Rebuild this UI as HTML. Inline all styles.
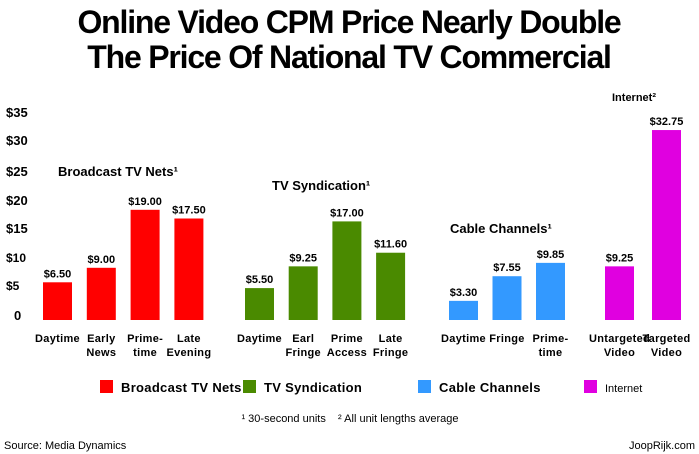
<!DOCTYPE html>
<html><head><meta charset="utf-8"><style>
body{margin:0;background:#fff;}
svg{display:block;font-family:"Liberation Sans",Arial,sans-serif;}
</style></head><body>
<svg id="c" width="699" height="454" viewBox="0 0 699 454">
<text x="349" y="33" text-anchor="middle" font-size="32" font-weight="bold" letter-spacing="-1.2">Online Video CPM Price Nearly Double</text>
<text x="349" y="68" text-anchor="middle" font-size="32" font-weight="bold" letter-spacing="-1.2">The Price Of National TV Commercial</text>
<g id="yaxis"></g>
<g id="bars"></g>
<g id="legend"></g>
<text x="350" y="422" text-anchor="middle" font-size="11" xml:space="preserve" style="white-space:pre">¹ 30-second units    ² All unit lengths average</text>
<text x="4" y="449" font-size="11">Source: Media Dynamics</text>
<text x="695" y="449" text-anchor="end" font-size="11">JoopRijk.com</text>
</svg>
<script>
const yTicks=["$35","$30","$25","$20","$15","$10","$5","0"];
const groups=["Broadcast TV Nets¹","TV Syndication¹","Cable Channels¹","Internet²"];
const colors=["#ff0000","#4a8a00","#3399ff","#e000e0"];
const broadcastCats=[["Daytime"],["Early","News"],["Prime-","time"],["Late","Evening"]];
const broadcastVals=[6.5,9.0,19.0,17.5];
const syndCats=[["Daytime"],["Earl","Fringe"],["Prime","Access"],["Late","Fringe"]];
const syndVals=[5.5,9.25,17.0,11.6];
const cableCats=[["Daytime"],["Fringe"],["Prime-","time"]];
const cableVals=[3.3,7.55,9.85];
const internetCats=[["Untargeted","Video"],["Targeted","Video"]];
const internetVals=[9.25,32.75];
const legendLabels=["Broadcast TV Nets","TV Syndication","Cable Channels","Internet"];

const NS="http://www.w3.org/2000/svg";
const base=320, scale=5.8;
const y=v=>base-v*scale;
function mk(tag,attrs,parent,txt){const e=document.createElementNS(NS,tag);for(const k in attrs)e.setAttribute(k,attrs[k]);if(txt!=null)e.textContent=txt;parent.appendChild(e);return e;}

const ya=document.getElementById('yaxis');
const tickY=[117,145,176,205,233,262,290,320];
yTicks.forEach((t,i)=>{const e=mk('text',{x:t==="0"?14:6,y:tickY[i],'font-size':t==="$10"||t==="$5"?12:13,'font-weight':'bold'},ya,t);

});

const bars=document.getElementById('bars');
const layout=[
 {cats:broadcastCats,vals:broadcastVals,x0:43,step:43.8,tx:58,ty:176},
 {cats:syndCats,vals:syndVals,x0:245,step:43.7,tx:272,ty:190},
 {cats:cableCats,vals:cableVals,x0:449,step:43.5,tx:450,ty:233},
 {cats:internetCats,vals:internetVals,x0:605,step:47,tx:612,ty:101,small:true}
];
layout.forEach((g,gi)=>{
 const gt=mk('text',{x:g.tx,y:g.ty,'font-size':g.small?11:13,'font-weight':'bold'},bars,groups[gi]);
 
 
 g.vals.forEach((v,i)=>{
  const x=g.x0+i*g.step, w=29, cx=x+w/2;
  const r=mk('rect',{x:x,y:y(v),width:w,height:base-y(v),fill:colors[gi]},bars);
  
  
  const vl=mk('text',{x:cx,y:y(v)-5,'text-anchor':'middle','font-size':11,'font-weight':'bold'},bars,'$'+v.toFixed(2));
  
  
  g.cats[i].forEach((ln,li)=>{
   const cl=mk('text',{x:cx,y:342+li*14,'text-anchor':'middle','font-size':11,'font-weight':'bold','letter-spacing':'0.3'},bars,ln);
   
   
  });
 });
});

const lg=document.getElementById('legend');
const lx=[100,243,418,584];
legendLabels.forEach((l,i)=>{
 const s=mk('rect',{x:lx[i],y:380,width:13,height:13,fill:colors[i]},lg);
 
 
 const t=mk('text',{x:lx[i]+21,y:392,'font-size':i===3?11:13,'font-weight':i===3?'normal':'bold','letter-spacing':i===3?0:0.3},lg,l);
 
 
});
</script>
</body></html>
